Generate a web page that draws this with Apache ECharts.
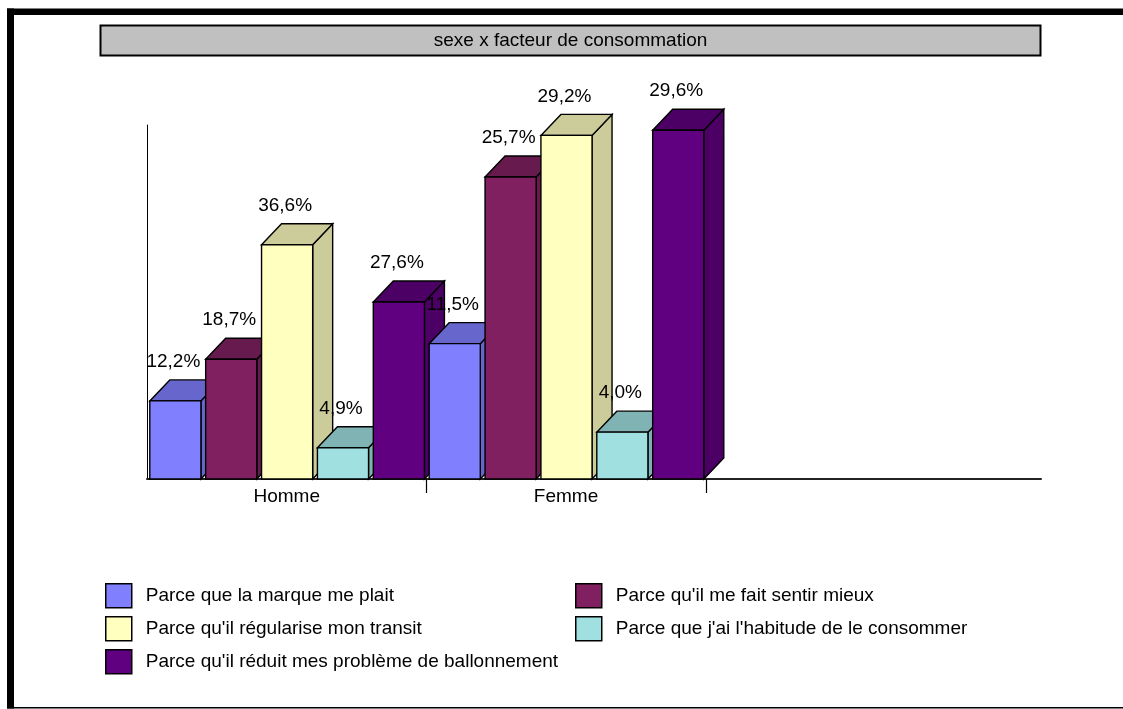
<!DOCTYPE html>
<html>
<head>
<meta charset="utf-8">
<title>sexe x facteur de consommation</title>
<script src="https://cdn.jsdelivr.net/npm/echarts@6/dist/echarts.min.js"></script>
<style>
  html, body { margin: 0; padding: 0; background: #ffffff; }
  #chart { width: 1123px; height: 709px; }
</style>
</head>
<body>
<div id="chart"></div>
<script>
// ---- data ----
const categories = ['Homme', 'Femme'];
const seriesNames = [
  'Parce que la marque me plait',
  "Parce qu'il me fait sentir mieux",
  "Parce qu'il régularise mon transit",
  "Parce que j'ai l'habitude de le consommer",
  "Parce qu'il réduit mes problème de ballonnement"
];
// number of answers, Homme then Femme
const marquePlait = [15, 26];
const sentirMieux = [23, 58];
const regulariseTransit = [45, 66];
const habitude = [6, 9];
const ballonnement = [34, 67];
const titleText = 'sexe x facteur de consommation';

const counts = [marquePlait, sentirMieux, regulariseTransit, habitude, ballonnement];

// ---- style ----
const FONT = "'Liberation Sans', Arial, sans-serif";
const frontColors = ['#8080FF', '#802060', '#FFFFC0', '#A0E0E0', '#600080'];
const shadeColors = ['#6666CC', '#661A4D', '#CCCC9A', '#80B3B3', '#4C0066'];
const DEPTH_X = 20, DEPTH_Y = -21;
const OUTLINE = { stroke: '#000', lineWidth: 1.4, lineJoin: 'miter' };

// share of each answer within its category, French decimal comma
const totals = categories.map((_, c) => counts.reduce((s, arr) => s + arr[c], 0));
function shareLabel(c, v) {
  return (v / totals[c] * 100).toFixed(1).replace('.', ',') + '%';
}

// 3D-looking column: front face, top face, right side face, value label
function makeRenderer(sIdx) {
  return function (params, api) {
    const c = api.value(0);
    const v = api.value(1);
    const band = api.size([1, 0])[0];
    const slot = band / seriesNames.length;
    const base = api.coord([c, 0]);
    const top = api.coord([c, v]);
    const xl = base[0] + slot * sIdx + slot * 0.05;
    const w = slot * 0.915;
    const xr = xl + w;
    const yb = base[1];
    const yt = top[1];
    const order = (c * seriesNames.length + sIdx) * 4;
    return {
      type: 'group',
      children: [
        {
          type: 'polygon', z2: order,
          shape: { points: [[xr, yt], [xr + DEPTH_X, yt + DEPTH_Y], [xr + DEPTH_X, yb + DEPTH_Y], [xr, yb]] },
          style: Object.assign({ fill: shadeColors[sIdx] }, OUTLINE)
        },
        {
          type: 'polygon', z2: order + 1,
          shape: { points: [[xl, yt], [xl + DEPTH_X, yt + DEPTH_Y], [xr + DEPTH_X, yt + DEPTH_Y], [xr, yt]] },
          style: Object.assign({ fill: shadeColors[sIdx] }, OUTLINE)
        },
        {
          type: 'rect', z2: order + 2,
          shape: { x: xl, y: yt, width: w, height: yb - yt },
          style: Object.assign({ fill: frontColors[sIdx] }, OUTLINE)
        },
        {
          type: 'text', z2: 1000,
          style: {
            text: shareLabel(c, v),
            x: xl + w / 2 - 2,
            y: yt + DEPTH_Y - 18,
            align: 'center',
            verticalAlign: 'middle',
            fill: '#000',
            font: '19px ' + FONT
          }
        }
      ]
    };
  };
}

const chart = echarts.init(document.getElementById('chart'), null, { renderer: 'canvas' });

const legendCommon = {
  orient: 'vertical',
  padding: 0,
  itemWidth: 26,
  itemHeight: 24,
  itemGap: 7.5,
  icon: 'rect',
  itemStyle: { borderColor: '#000', borderWidth: 1.5 },
  textStyle: { fontSize: 19, color: '#000', fontFamily: FONT, padding: [0, 0, 8, 9] }
};

const option = {
  animation: false,
  backgroundColor: '#ffffff',
  graphic: [
    // frame
    { type: 'rect', shape: { x: 7, y: 8.5, width: 1116, height: 6.5 }, style: { fill: '#000' } },
    { type: 'rect', shape: { x: 7, y: 8.5, width: 7, height: 700 }, style: { fill: '#000' } },
    { type: 'rect', shape: { x: 7, y: 707, width: 1116, height: 1.5 }, style: { fill: '#000' } },
    // title box
    { type: 'rect', shape: { x: 100.5, y: 25.5, width: 940, height: 30 },
      style: { fill: '#C0C0C0', stroke: '#000', lineWidth: 2 } },
    { type: 'text', x: 570.5, y: 40.5,
      style: { text: titleText, align: 'center', verticalAlign: 'middle', fill: '#000', font: '19px ' + FONT } }
  ],
  grid: { left: 147, right: 82, top: 125, bottom: 230, containLabel: false },
  xAxis: {
    type: 'value',
    min: 0,
    max: 3.2,
    splitLine: { show: false },
    axisLine: { show: true, lineStyle: { color: '#222', width: 2 } },
    axisTick: { show: true, customValues: [1, 2], length: 14, lineStyle: { color: '#000', width: 1.2 } },
    axisLabel: {
      show: true,
      customValues: [0.5, 1.5],
      formatter: (val) => categories[Math.round(val - 0.5)],
      fontSize: 19, color: '#000', fontFamily: FONT, margin: 8
    }
  },
  yAxis: {
    type: 'value',
    min: 0,
    max: 68,
    splitLine: { show: false },
    axisLine: { show: true, lineStyle: { color: '#000', width: 1 } },
    axisTick: { show: false },
    axisLabel: { show: false }
  },
  legend: [
    Object.assign({ left: 105, top: 583, data: [seriesNames[0], seriesNames[2], seriesNames[4]] }, legendCommon),
    Object.assign({ left: 575, top: 583, data: [seriesNames[1], seriesNames[3]] }, legendCommon)
  ],
  series: seriesNames.map((name, i) => ({
    name: name,
    type: 'custom',
    renderItem: makeRenderer(i),
    itemStyle: { color: frontColors[i], borderColor: '#000', borderWidth: 1.5 },
    encode: { x: 0, y: 1 },
    data: categories.map((_, c) => [c, counts[i][c]])
  }))
};

chart.setOption(option);
</script>
</body>
</html>
